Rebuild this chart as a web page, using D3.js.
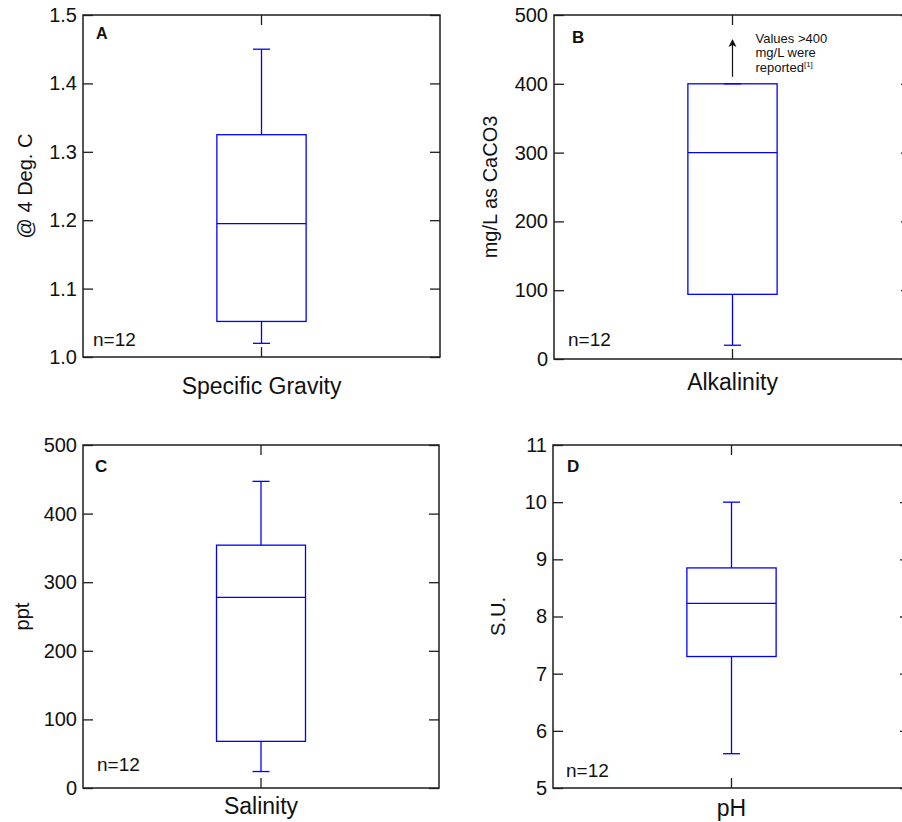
<!DOCTYPE html>
<html>
<head>
<meta charset="utf-8">
<script src="https://cdn.jsdelivr.net/npm/d3@7"></script>
<style>
  body { margin: 0; background: #fff; }
  svg { display: block; font-family: "Liberation Sans", Arial, sans-serif; }
</style>
</head>
<body>
<svg id="chart"></svg>
<script>
// Data
const panelIds = ['A', 'B', 'C', 'D'];
const categories = ['Specific Gravity', 'Alkalinity', 'Salinity', 'pH'];
const yTitles = ['@ 4 Deg. C', 'mg/L as CaCO3', 'ppt', 'S.U.'];
const yDomains = [[1.0, 1.5], [0, 500], [0, 500], [5, 11]];
const yTicks = [
    [1.0, 1.1, 1.2, 1.3, 1.4, 1.5],
    [0, 100, 200, 300, 400, 500],
    [0, 100, 200, 300, 400, 500],
    [5, 6, 7, 8, 9, 10, 11]
];
const tickFormats = ['.1f', 'd', 'd', 'd'];
const whiskerLow = [1.02, 20, 24, 5.6];
const quartile1 = [1.052, 94, 68, 7.30];
const medians = [1.195, 300, 278, 8.23];
const quartile3 = [1.325, 400, 354, 8.85];
const whiskerHigh = [1.45, 400, 447, 10.0];
const sampleCounts = [12, 12, 12, 12];
const noteLines = ['Values >400', 'mg/L were', 'reported'];
const noteRef = '[1]';
const noteFrom = 400;
const noteTo = 465;

(function() {

    const W = 902;
    const H = 822;

    // Layout of each panel frame
    const frames = [
        { x: 83, y: 15, w: 357, h: 342, titleX: -58, labelX: 13, labelSize: 16, labelY: 24, nX: 10, nY: 11, xGap: 21 },
        { x: 554, y: 15, w: 357, h: 344, titleX: -64, labelX: 18, labelSize: 17, labelY: 28, nX: 14, nY: 13, xGap: 15 },
        { x: 83, y: 445, w: 356, h: 343, titleX: -61, labelX: 12, labelSize: 17, labelY: 27, nX: 14, nY: 17, xGap: 10 },
        { x: 553, y: 445, w: 357, h: 343, titleX: -55, labelX: 14, labelSize: 17, labelY: 27, nX: 13, nY: 11, xGap: 12 }
    ];

    const frameColor = '#1e1e1e';
    const boxColor = '#0000ff';
    const tickLen = 10;

    const svg = d3.select('#chart')
        .attr('width', W)
        .attr('height', H);

    panelIds.forEach((id, i) => {

        const f = frames[i];
        const g = svg.append('g')
            .attr('transform', `translate(${f.x}, ${f.y})`);

        // Scales
        const scaleY = d3.scaleLinear()
            .domain(yDomains[i])
            .range([f.h, 0]);

        const scaleX = d3.scaleBand()
            .domain([categories[i]])
            .range([0, f.w]);

        const cx = scaleX(categories[i]) + scaleX.bandwidth() / 2;
        const boxW = f.w * 0.25;
        const capW = 17;

        // Axes
        const yAxis = d3.axisLeft(scaleY)
            .tickValues(yTicks[i])
            .tickFormat(d3.format(tickFormats[i]))
            .tickSizeInner(-tickLen)
            .tickSizeOuter(0)
            .tickPadding(6);

        const yAxisRight = d3.axisRight(scaleY)
            .tickValues(yTicks[i])
            .tickFormat('')
            .tickSizeInner(-tickLen)
            .tickSizeOuter(0);

        const xAxis = d3.axisBottom(scaleX)
            .tickSizeInner(-tickLen)
            .tickSizeOuter(0)
            .tickPadding(f.xGap);

        const xAxisTop = d3.axisTop(scaleX)
            .tickFormat('')
            .tickSizeInner(-tickLen)
            .tickSizeOuter(0);

        const gy = g.append('g').call(yAxis);
        g.append('g').attr('transform', `translate(${f.w}, 0)`).call(yAxisRight);
        const gx = g.append('g').attr('transform', `translate(0, ${f.h})`).call(xAxis);
        g.append('g').call(xAxisTop);

        g.selectAll('.domain').remove();
        g.selectAll('.tick line')
            .attr('stroke', frameColor)
            .attr('stroke-width', 1.3);
        gy.selectAll('text')
            .attr('font-size', 20)
            .attr('fill', '#111')
            .attr('font-family', '"Liberation Sans", Arial, sans-serif');
        gx.selectAll('text')
            .attr('font-size', 23)
            .attr('fill', '#111')
            .attr('font-family', '"Liberation Sans", Arial, sans-serif');

        // Frame
        g.append('rect')
            .attr('x', 0)
            .attr('y', 0)
            .attr('width', f.w)
            .attr('height', f.h)
            .attr('fill', 'none')
            .attr('stroke', frameColor)
            .attr('stroke-width', 1.5);

        // Y title
        g.append('text')
            .attr('transform', `translate(${f.titleX}, ${f.h / 2}) rotate(-90)`)
            .attr('text-anchor', 'middle')
            .attr('dy', '0.35em')
            .attr('font-size', 20)
            .attr('fill', '#111')
            .text(yTitles[i]);

        // Panel label
        g.append('text')
            .attr('x', f.labelX)
            .attr('y', f.labelY)
            .attr('font-size', f.labelSize)
            .attr('font-weight', 'bold')
            .attr('fill', '#111')
            .text(id);

        // n label
        g.append('text')
            .attr('x', f.nX)
            .attr('y', f.h - f.nY)
            .attr('font-size', 19)
            .attr('fill', '#111')
            .text(`n=${sampleCounts[i]}`);

        // Box plot
        const box = g.append('g')
            .attr('stroke', boxColor)
            .attr('stroke-width', 1.3)
            .attr('fill', 'none');

        // Whiskers
        box.append('line')
            .attr('x1', cx).attr('x2', cx)
            .attr('y1', scaleY(quartile3[i])).attr('y2', scaleY(whiskerHigh[i]));
        box.append('line')
            .attr('x1', cx).attr('x2', cx)
            .attr('y1', scaleY(quartile1[i])).attr('y2', scaleY(whiskerLow[i]));

        // Caps
        [whiskerLow[i], whiskerHigh[i]].forEach(v => {
            box.append('line')
                .attr('x1', cx - capW / 2).attr('x2', cx + capW / 2)
                .attr('y1', scaleY(v)).attr('y2', scaleY(v));
        });

        // Box
        box.append('rect')
            .attr('x', cx - boxW / 2)
            .attr('y', scaleY(quartile3[i]))
            .attr('width', boxW)
            .attr('height', scaleY(quartile1[i]) - scaleY(quartile3[i]));

        // Median
        box.append('line')
            .attr('x1', cx - boxW / 2).attr('x2', cx + boxW / 2)
            .attr('y1', scaleY(medians[i])).attr('y2', scaleY(medians[i]));

        // Note on alkalinity
        if (id === 'B') {
            const y0 = scaleY(noteFrom) - 7;
            const y1 = scaleY(noteTo);
            g.append('line')
                .attr('x1', cx).attr('x2', cx)
                .attr('y1', y0).attr('y2', y1 + 3)
                .attr('stroke', '#111')
                .attr('stroke-width', 1.2);
            g.append('path')
                .attr('d', `M${cx},${y1} L${cx - 4},${y1 + 8} L${cx},${y1 + 6} L${cx + 4},${y1 + 8} Z`)
                .attr('fill', '#111');

            const note = g.append('text')
                .attr('font-size', 13)
                .attr('fill', '#111');
            noteLines.forEach((line, k) => {
                note.append('tspan')
                    .attr('x', cx + 23)
                    .attr('y', 27.5 + k * 14.5)
                    .text(line);
                if (k === noteLines.length - 1) {
                    note.append('tspan')
                        .attr('font-size', 8)
                        .attr('dy', -5)
                        .text(noteRef);
                }
            });
        }

    });

})();
</script>
</body>
</html>
